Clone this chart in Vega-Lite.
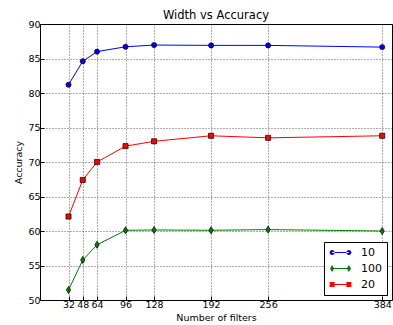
{
  "$schema": "https://vega.github.io/schema/vega-lite/v6.json",
  "autosize": {"type": "none"},
  "padding": {"left": 40, "top": 24, "right": 1, "bottom": 25},
  "width": 352,
  "height": 276,
  "background": "white",
  "config": {
    "font": "DejaVu Sans",
    "view": {"stroke": "black", "strokeWidth": 1},
    "axis": {
      "domain": false,
      "grid": true,
      "gridColor": "black",
      "gridDash": [1, 2],
      "gridOpacity": 0.8,
      "gridWidth": 0.8,
      "tickColor": "black",
      "tickSize": -4,
      "labelColor": "black",
      "labelFont": "DejaVu Sans",
      "labelFontSize": 9.5,
      "titleFont": "DejaVu Sans",
      "titleFontSize": 9.5,
      "titleFontWeight": "normal",
      "titleColor": "black"
    },
    "legend": {
      "orient": "bottom-right",
      "offset": 5,
      "strokeColor": "black",
      "fillColor": "white",
      "padding": 5,
      "labelFontSize": 11,
      "labelFont": "DejaVu Sans",
      "labelColor": "black",
      "symbolSize": 25,
      "symbolStrokeWidth": 0,
      "symbolOffset": 6,
      "labelOffset": 15,
      "rowPadding": 4
    }
  },
  "title": {
    "text": "Width vs Accuracy",
    "font": "DejaVu Sans",
    "fontSize": 11.5,
    "fontWeight": "normal",
    "color": "black",
    "anchor": "middle",
    "offset": -2
  },
  "data": {
    "values": [
      {"filters": 32, "acc": 81.2, "series": "10"},
      {"filters": 48, "acc": 84.6, "series": "10"},
      {"filters": 64, "acc": 86.0, "series": "10"},
      {"filters": 96, "acc": 86.7, "series": "10"},
      {"filters": 128, "acc": 86.95, "series": "10"},
      {"filters": 192, "acc": 86.9, "series": "10"},
      {"filters": 256, "acc": 86.9, "series": "10"},
      {"filters": 384, "acc": 86.65, "series": "10"},
      {"filters": 32, "acc": 51.45, "series": "100"},
      {"filters": 48, "acc": 55.8, "series": "100"},
      {"filters": 64, "acc": 58.0, "series": "100"},
      {"filters": 96, "acc": 60.1, "series": "100"},
      {"filters": 128, "acc": 60.15, "series": "100"},
      {"filters": 192, "acc": 60.1, "series": "100"},
      {"filters": 256, "acc": 60.2, "series": "100"},
      {"filters": 384, "acc": 60.0, "series": "100"},
      {"filters": 32, "acc": 62.1, "series": "20"},
      {"filters": 48, "acc": 67.4, "series": "20"},
      {"filters": 64, "acc": 70.0, "series": "20"},
      {"filters": 96, "acc": 72.3, "series": "20"},
      {"filters": 128, "acc": 73.0, "series": "20"},
      {"filters": 192, "acc": 73.8, "series": "20"},
      {"filters": 256, "acc": 73.5, "series": "20"},
      {"filters": 384, "acc": 73.8, "series": "20"}
    ]
  },
  "encoding": {
    "x": {
      "field": "filters",
      "type": "quantitative",
      "scale": {"domain": [0, 395], "nice": false, "zero": false},
      "axis": {
        "title": "Number of filters",
        "values": [32, 48, 64, 96, 128, 192, 256, 384],
        "labelPadding": 3,
        "titlePadding": 4,
        "labelFlush": false
      }
    },
    "y": {
      "field": "acc",
      "type": "quantitative",
      "scale": {"domain": [50, 90], "nice": false, "zero": false},
      "axis": {
        "title": "Accuracy",
        "values": [50, 55, 60, 65, 70, 75, 80, 85, 90],
        "labelPadding": 4,
        "titlePadding": 4,
        "labelFlush": false
      }
    }
  },
  "layer": [
    {
      "mark": {"type": "line", "strokeWidth": 1},
      "encoding": {
        "color": {
          "field": "series",
          "type": "nominal",
          "scale": {"domain": ["10", "100", "20"], "range": ["#0000ff", "#008000", "#ff0000"]},
          "legend": null
        }
      }
    },
    {
      "mark": {"type": "point", "filled": true, "stroke": "black", "strokeWidth": 0.7, "opacity": 1, "size": 26},
      "encoding": {
        "color": {
          "field": "series",
          "type": "nominal",
          "scale": {"domain": ["10", "100", "20"], "range": ["#0000ff", "#008000", "#ff0000"]},
          "legend": null
        },
        "shape": {
          "field": "series",
          "type": "nominal",
          "scale": {"domain": ["10", "100", "20"], "range": ["circle", "M0,-1.4L0.85,0L0,1.4L-0.85,0Z", "square"]},
          "legend": null
        }
      }
    },
    {
      "transform": [{"filter": "datum.acc > 1000"}],
      "mark": {"type": "point", "filled": true, "opacity": 1},
      "encoding": {
        "color": {
          "field": "series",
          "type": "nominal",
          "title": null,
          "scale": {"domain": ["10", "100", "20"], "range": ["#0000ff", "#008000", "#ff0000"]}
        },
        "shape": {
          "field": "series",
          "type": "nominal",
          "title": null,
          "scale": {
            "domain": ["10", "100", "20"],
            "range": [
              "M-2.35,0A1,1 0 1,0 -4.35,0A1,1 0 1,0 -2.35,0ZM4.35,0A1,1 0 1,0 2.35,0A1,1 0 1,0 4.35,0ZM-3.35,-0.2L3.35,-0.2L3.35,0.2L-3.35,0.2Z",
              "M-3.35,-1.4L-2.5,0L-3.35,1.4L-4.2,0ZM3.35,-1.4L4.2,0L3.35,1.4L2.5,0ZM-3.35,-0.2L3.35,-0.2L3.35,0.2L-3.35,0.2Z",
              "M-4.35,-1L-2.35,-1L-2.35,1L-4.35,1ZM2.35,-1L4.35,-1L4.35,1L2.35,1ZM-3.35,-0.2L3.35,-0.2L3.35,0.2L-3.35,0.2Z"
            ]
          }
        }
      }
    }
  ],
  "resolve": {"scale": {"color": "independent", "shape": "independent"}}
}
